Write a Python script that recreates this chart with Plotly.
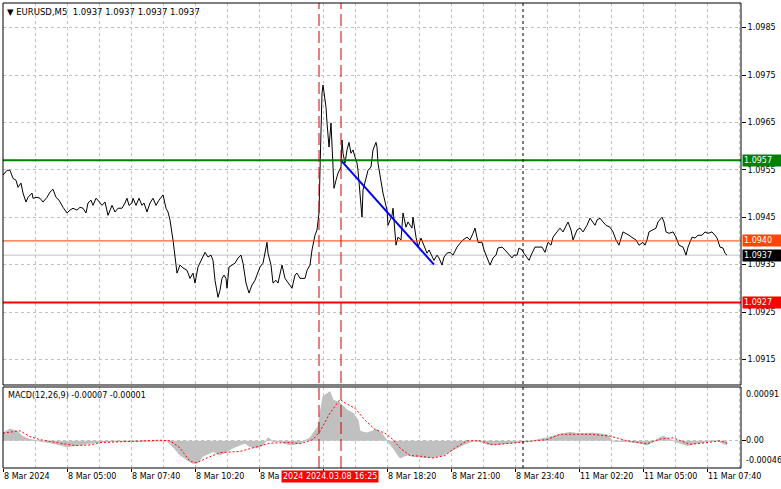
import plotly.graph_objects as go

FONT = "DejaVu Sans"
FS = 8

# ---- price (close line), bar index counted from 8 Mar 02:20 (M5 bars)
price_bar = [0, 2, 3.5, 5, 6.5, 7.5, 9, 10, 11.5, 12.5, 14.5, 15, 17, 18.5, 20, 22, 23.5, 25, 26.5, 28,
             30, 32, 33.5, 35, 37, 38.5, 40, 41.5, 42.5, 44, 45, 46.5, 47.5, 49.5, 51, 52.5, 54.5, 56, 57.5, 59.5,
             61, 62, 63, 64.5, 65, 66.5, 68, 69.5, 70.5, 72, 73.5, 75, 76.5, 78, 80, 81.5, 82.5, 83.5, 85, 86,
             87, 88.5, 90, 92, 93.5, 95, 96, 97.5, 99.5, 101, 102.5, 104, 105, 106, 107.5, 108.5, 109.5, 110.5, 111.5, 112,
             113, 114.5, 116, 117.5, 119, 120, 121.5, 123, 124.5, 126, 127.5, 128.5, 130, 132, 132.5, 134, 135, 136.5, 137.5, 139.5,
             141, 142.5, 144.5, 146, 147, 148.5, 151, 152, 153.5, 154.5, 156, 157, 158, 158.5, 159, 159.5, 160, 161, 161.5, 162,
             162.5, 163, 164, 164.5, 165, 165.5, 166.5, 167.5, 169, 169.5, 170, 171, 172, 173, 174, 175, 176, 177, 177.5, 178.5,
             179.5, 180, 181.5, 182.5, 184, 185, 186.5, 187, 187.5, 189, 190, 192, 192.5, 194.5, 195, 196.5, 197.5, 199, 200, 201.5,
             202.5, 204.5, 205, 206.5, 207.5, 209, 210, 212, 213, 214.5, 215.5, 217, 218, 219.5, 220.5, 222, 223.5, 225, 227, 228.5,
             230, 232, 233.5, 235, 236, 237.5, 239.5, 240.5, 242, 243.5, 245, 246.5, 247.5, 249.5, 251, 252.5, 254.5, 255.5, 257, 258,
             259.5, 260.5, 262, 263, 264.5, 266, 267.5, 269.5, 271, 272.5, 274, 275, 277, 278.5, 280, 281.5, 282.5, 284, 285, 287,
             288.5, 290, 292, 293.5, 295, 296, 297, 298.5, 300, 301.5, 303.5, 305, 306.5, 308, 310, 311.5, 313, 315, 316.5, 318,
             320, 321, 322, 323, 325, 326.5, 327.5, 329.5, 330.5, 331.5, 333, 335, 336.5, 338, 340, 341.5, 342.5, 344.5, 346, 347.5,
             349.5, 351, 352.5, 354.5, 356, 357, 358.5, 360, 361, 362]
price_close = [1.09539, 1.09549, 1.09549, 1.09532, 1.09528, 1.09513, 1.09522, 1.09501, 1.09482, 1.09492, 1.09501, 1.0949, 1.09492, 1.0949, 1.09482, 1.09492, 1.09503, 1.09509, 1.09492, 1.09486,
               1.09471, 1.09459, 1.09465, 1.09469, 1.09465, 1.09471, 1.09469, 1.09459, 1.0948, 1.09486, 1.09475, 1.0949, 1.09486, 1.09475, 1.09482, 1.09454, 1.09475, 1.09461, 1.09469, 1.09469,
               1.0948, 1.0949, 1.09475, 1.0948, 1.0949, 1.09475, 1.0949, 1.09475, 1.0948, 1.09461, 1.0948, 1.0949, 1.09475, 1.09486, 1.09497, 1.09469, 1.09461, 1.09444, 1.09402, 1.09366,
               1.09332, 1.09349, 1.09343, 1.09338, 1.09321, 1.09332, 1.09311, 1.09345, 1.09364, 1.09376, 1.09366, 1.0937, 1.09359, 1.09317, 1.09281, 1.09296, 1.09321, 1.09328, 1.09321, 1.093,
               1.09345, 1.09349, 1.09353, 1.09364, 1.0937, 1.09353, 1.09311, 1.0929, 1.09307, 1.09317, 1.09334, 1.09345, 1.09353, 1.09397, 1.09374, 1.09349, 1.09311, 1.09317, 1.09311, 1.09349,
               1.09321, 1.09311, 1.093, 1.09328, 1.09332, 1.09321, 1.09321, 1.09338, 1.09349, 1.09381, 1.09412, 1.09423, 1.09459, 1.09549, 1.09655, 1.09712, 1.09729, 1.09703, 1.09682, 1.09649,
               1.09613, 1.09598, 1.09649, 1.09606, 1.09549, 1.09511, 1.09528, 1.09543, 1.09556, 1.09613, 1.09585, 1.09564, 1.09592, 1.09608, 1.09585, 1.09592, 1.09577, 1.09564, 1.09549, 1.09507,
               1.0945, 1.09507, 1.09535, 1.09549, 1.09556, 1.09592, 1.09608, 1.09598, 1.09564, 1.09522, 1.09501, 1.09465, 1.09433, 1.09454, 1.09469, 1.09391, 1.09408, 1.09402, 1.09459, 1.09429,
               1.0944, 1.09427, 1.0945, 1.09408, 1.09387, 1.09406, 1.09395, 1.09374, 1.09381, 1.09366, 1.09359, 1.0937, 1.09364, 1.09349, 1.09366, 1.09374, 1.09376, 1.0937, 1.09387, 1.09395,
               1.09402, 1.09408, 1.09402, 1.09416, 1.09427, 1.09397, 1.09397, 1.09381, 1.09364, 1.09349, 1.09364, 1.0937, 1.09385, 1.09387, 1.09381, 1.09374, 1.09364, 1.0937, 1.0937, 1.09385,
               1.09381, 1.09374, 1.09366, 1.09359, 1.09374, 1.09387, 1.09387, 1.09387, 1.09376, 1.09397, 1.09391, 1.09408, 1.09419, 1.09427, 1.09419, 1.09433, 1.0944, 1.09423, 1.09402, 1.09423,
               1.09427, 1.09419, 1.09433, 1.09448, 1.0944, 1.09433, 1.09444, 1.09448, 1.0944, 1.09433, 1.09429, 1.09419, 1.09402, 1.09391, 1.09419, 1.09416, 1.09412, 1.09406, 1.09402, 1.09391,
               1.09397, 1.09391, 1.09402, 1.09419, 1.09423, 1.09427, 1.0944, 1.0945, 1.0944, 1.09419, 1.09416, 1.09419, 1.09408, 1.09391, 1.09387, 1.0937, 1.09387, 1.09408, 1.09406, 1.09412,
               1.09412, 1.09419, 1.09416, 1.09419, 1.09412, 1.09406, 1.09387, 1.09385, 1.09374, 1.0937]

# ---- MACD(12,26,9)
hist_bar = [0, 3.5, 7, 10, 13.5, 18.5, 25, 32, 37, 43.5, 48.5, 57, 68.5, 78.5, 82, 85, 88.5, 92, 95, 97,
            100, 105, 108.5, 112, 115, 118.5, 121, 123.5, 127, 130, 132.5, 135, 138.5, 143.5, 148.5, 153.5, 157.5, 160, 163.5, 165,
            168.5, 172, 175, 177.5, 178.5, 182, 187, 190, 192, 195, 198.5, 202, 205, 210, 215, 220, 225, 230, 235, 238.5,
            243.5, 247, 252, 258.5, 265, 272, 278.5, 283.5, 288.5, 295, 302, 305, 312, 318.5, 322, 327, 330, 333.5, 338.5, 342,
            347, 352, 357, 360, 362]
hist_val = [0.00013, 0.0002, 0.00016, 0.00007, 0.00002, -0.00001, -0.00004, -0.0001, -0.00007, -0.00004, -0.00002, -0.00001, -0.00001, -0.00001, 0.0, -0.0001, -0.00024, -0.00032, -0.00038, -0.00038,
            -0.00026, -0.00018, -0.00024, -0.00018, -0.00012, -0.00007, -0.00004, -0.0001, -0.00012, -0.00007, 0.00005, -0.00001, -0.00001, -0.00007, -0.00004, 0.00005, 0.00024, 0.00075, 0.00083, 0.00069,
            0.00064, 0.00052, 0.00047, 0.00035, 0.00016, 0.00013, 0.00019, 0.0001, 0.0, -0.00012, -0.00029, -0.00024, -0.00026, -0.00028, -0.00028, -0.00024, -0.00015, -0.00007, 0.0, -0.00001,
            -0.00007, -0.00006, -0.00004, -0.00003, 0.0, 0.00005, 0.00011, 0.00014, 0.00012, 0.00013, 0.0001, -0.00001, -0.00001, -0.00004, -0.00007, 0.00002, 0.00008, 0.00002, -0.00004, -0.00008,
            -0.00004, -0.00001, 0.0, -0.00004, -0.00007]
signal_bar = [0, 8.5, 13.5, 18.5, 28.5, 36, 43.5, 48.5, 63.5, 78.5, 83.5, 88.5, 93.5, 97, 102, 108.5, 118.5, 127, 133.5, 143.5,
              148.5, 155, 158.5, 163.5, 168.5, 171, 176, 181, 186, 191, 195, 198.5, 203.5, 208.5, 215, 221, 226, 232, 238.5, 245,
              253.5, 263.5, 272, 278.5, 293.5, 303.5, 312, 322, 328.5, 335, 343.5, 352, 358.5, 362]
signal_val = [0.00013, 0.00017, 0.00007, 0.00002, -0.00004, -0.00008, -0.00007, -0.00003, -0.00001, 0.00001, 0.0, -0.00012, -0.00035, -0.00037, -0.00029, -0.0002, -0.00018, -0.0001, -0.00004, -0.00003,
              -0.00005, 0.00002, 0.00016, 0.00047, 0.0007, 0.00064, 0.00055, 0.00035, 0.00019, 0.00013, 0.00002, -0.00012, -0.00025, -0.00026, -0.00029, -0.00025, -0.00012, 0.0, 0.0, -0.00007,
              -0.00004, -0.00001, 0.00002, 0.00011, 0.00011, 0.00008, 0.0, -0.00005, 0.00003, 0.00005, -0.00006, -0.00003, 0.0, -0.00004]

# ---- trend line and levels
trend_bar = [169, 215.5]
trend_price = [1.0957, 1.0935]
level_green = 1.0957
level_red = 1.0927
level_orange = 1.0940
bid_price = 1.0937
spike_bars = [158, 169]      # red dashed verticals (8 Mar 15:30 and 16:25)
day_sep_bar = 260            # 11 Mar 00:00

# ---- axis labels
price_ticks = [1.0915, 1.0925, 1.0935, 1.0945, 1.0955, 1.0965, 1.0975, 1.0985]
time_tick_bars = [0, 32, 64, 96, 128, 192, 224, 256, 288, 320, 352]
time_tick_text = ["8 Mar 2024", "8 Mar 05:00", "8 Mar 07:40", "8 Mar 10:20", "8 Ma", "8 Mar 18:20",
                  "8 Mar 21:00", "8 Mar 23:40", "11 Mar 02:20", "11 Mar 05:00", "11 Mar 07:40"]
cursor_bar = 163.5
cursor_text = "2024 2024.03.08 16:25"
macd_max, macd_min = 0.00091, -0.00046

GRID = "#c0c0c0"
XR = [0, 369]

fig = go.Figure()
fig.add_trace(go.Scatter(x=hist_bar, y=hist_val, mode="lines", fill="tozeroy", fillcolor="#c0c0c0",
                         line=dict(color="#c0c0c0", width=1), xaxis="x2", yaxis="y2", hoverinfo="skip"))
fig.add_trace(go.Scatter(x=signal_bar, y=signal_val, mode="lines", line=dict(color="#ff0000", width=1, dash="2px,2px"),
                         xaxis="x2", yaxis="y2"))
fig.add_trace(go.Scatter(x=price_bar, y=price_close, mode="lines", line=dict(color="#000000", width=1),
                         xaxis="x", yaxis="y"))
fig.add_trace(go.Scatter(x=trend_bar, y=trend_price, mode="lines", line=dict(color="#0000ff", width=2),
                         xaxis="x", yaxis="y"))

shapes = []
shapes.append(dict(type="line", xref="x domain", yref="y", x0=0, x1=1, y0=bid_price, y1=bid_price,
                   line=dict(color="#c0c0c0", width=1), layer="below"))
shapes.append(dict(type="line", xref="x domain", yref="y", x0=0, x1=1, y0=level_orange, y1=level_orange,
                   line=dict(color="#ff3c00", width=1)))
shapes.append(dict(type="line", xref="x domain", yref="y", x0=0, x1=1, y0=level_green, y1=level_green,
                   line=dict(color="#008000", width=2)))
shapes.append(dict(type="line", xref="x domain", yref="y", x0=0, x1=1, y0=level_red, y1=level_red,
                   line=dict(color="#ff0000", width=2)))
for b in spike_bars:
    shapes.append(dict(type="line", xref="x", yref="paper", x0=b, x1=b, y0=0, y1=1,
                       line=dict(color="#d00000", width=1, dash="12px,5px")))
shapes.append(dict(type="line", xref="x", yref="paper", x0=day_sep_bar, x1=day_sep_bar, y0=0, y1=1,
                   line=dict(color="#000000", width=1, dash="3px,3px")))
shapes.append(dict(type="rect", xref="x domain", yref="y domain", x0=0, x1=1, y0=0, y1=1,
                   line=dict(color="#000000", width=1)))
shapes.append(dict(type="rect", xref="x2 domain", yref="y2 domain", x0=0, x1=1, y0=0, y1=1,
                   line=dict(color="#000000", width=1)))

ann = []
tf = dict(family=FONT, size=FS, color="#000000")
ann.append(dict(xref="paper", yref="paper", x=0, y=1, xanchor="left", yanchor="top", xshift=2, yshift=-2,
                text="\u25bc EURUSD,M5\u00a0\u00a01.0937 1.0937 1.0937 1.0937", showarrow=False,
                font=dict(family=FONT, size=8.5, color="#000000")))
ann.append(dict(xref="paper", yref="y2 domain", x=0, y=1, xanchor="left", yanchor="top", xshift=3, yshift=-2,
                text="MACD(12,26,9) -0.00007 -0.00001", showarrow=False, font=tf))
for b, t in zip(time_tick_bars, time_tick_text):
    ann.append(dict(xref="x2", yref="paper", x=b, y=0, xanchor="left", yanchor="top", yshift=-2, xshift=-1,
                    text=t, showarrow=False, font=tf))
ann.append(dict(xref="x2", yref="paper", x=cursor_bar, y=0, xanchor="center", yanchor="top", yshift=-2,
                text=cursor_text, showarrow=False, bgcolor="#ff0000", borderpad=1,
                font=dict(family=FONT, size=FS, color="#ffffff")))
ann.append(dict(xref="paper", yref="y2", x=1, y=macd_max, xanchor="left", yanchor="top", xshift=3, yshift=-1,
                text="0.00091", showarrow=False, font=tf))
ann.append(dict(xref="paper", yref="y2", x=1, y=0, xanchor="left", yanchor="middle", xshift=3,
                text="0.00", showarrow=False, font=tf))
ann.append(dict(xref="paper", yref="y2", x=1, y=macd_min, xanchor="left", yanchor="bottom", xshift=3, yshift=1,
                text="-0.00046", showarrow=False, font=tf))
for val, col in [(level_green, "#008000"), (level_orange, "#ff4500"), (bid_price, "#000000"), (level_red, "#ff0000")]:
    ann.append(dict(xref="paper", yref="y", x=1, y=val, xanchor="left", yanchor="middle", xshift=1,
                    text=f"{val:.4f}", showarrow=False, bgcolor=col, borderpad=1, width=36, align="left",
                    font=dict(family=FONT, size=FS, color="#ffffff")))

xcommon = dict(range=XR, showgrid=True, gridcolor=GRID, griddash="3px,3px", gridwidth=1,
               tickmode="linear", tick0=0, dtick=32, zeroline=False, showline=False,
               minor=dict(tick0=0, dtick=16, showgrid=True, gridcolor=GRID, griddash="3px,3px"))

fig.update_layout(
    width=781, height=489,
    margin=dict(l=3, r=40, t=3, b=21),
    paper_bgcolor="#ffffff", plot_bgcolor="#ffffff",
    showlegend=False,
    font=tf,
    xaxis=dict(domain=[0, 1], anchor="y", showticklabels=False, ticks="", **xcommon),
    xaxis2=dict(domain=[0, 1], anchor="y2", matches="x", showticklabels=False, ticks="outside",
                ticklen=3, tickcolor="#000000", **xcommon),
    yaxis=dict(domain=[0.1785, 1], anchor="x", side="right", range=[1.09096, 1.09902],
               tickmode="array", tickvals=price_ticks, ticktext=[f"{v:.4f}" for v in price_ticks],
               ticks="outside", ticklen=4, tickcolor="#000000", showgrid=True, gridcolor=GRID,
               griddash="3px,3px", zeroline=False, tickfont=tf),
    yaxis2=dict(domain=[0, 0.1742], anchor="x2", side="right", range=[macd_min, macd_max],
                tickmode="array", tickvals=[0], showticklabels=False, ticks="outside", ticklen=4,
                tickcolor="#000000", showgrid=True, gridcolor=GRID, griddash="3px,3px", zeroline=False),
    shapes=shapes,
    annotations=ann,
)

fig.write_html("out.html", config={"displayModeBar": False},
               post_script="document.body.style.margin='0px';document.body.style.padding='0px';")
